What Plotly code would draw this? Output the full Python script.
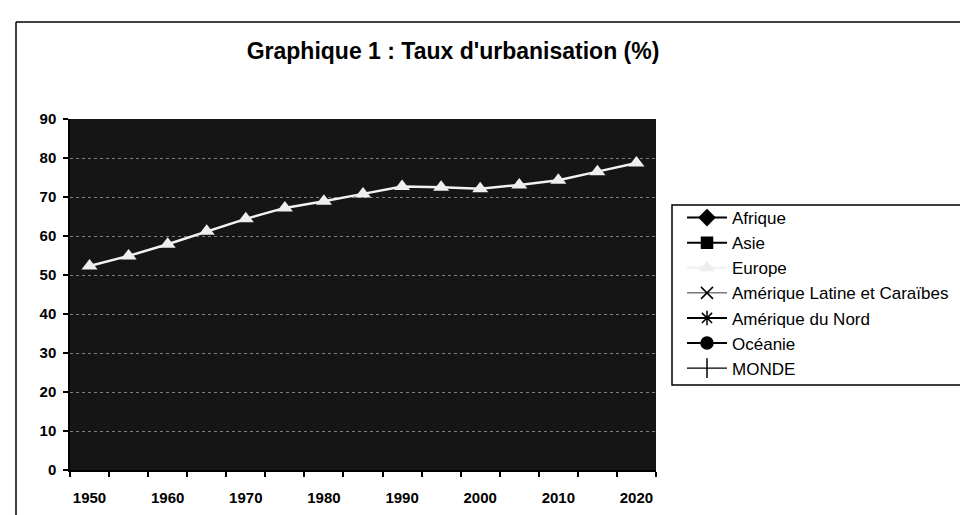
import plotly.graph_objects as go

years = [1950, 1955, 1960, 1965, 1970, 1975, 1980, 1985, 1990, 1995, 2000, 2005, 2010, 2015, 2020]
year_labels = [1950, 1960, 1970, 1980, 1990, 2000, 2010, 2020]
europe = [52.3, 54.9, 57.9, 61.2, 64.4, 67.2, 68.9, 70.8, 72.7, 72.5, 72.1, 73.1, 74.3, 76.5, 78.7]
y_ticks = [0, 10, 20, 30, 40, 50, 60, 70, 80, 90]

W, H = 968, 515
L, R, T, B = 62, 648, 111, 462

FONT = "Liberation Sans, Arial, sans-serif"

fig = go.Figure()

def empty(name, symbol, width=1.5, size=9):
    fig.add_trace(go.Scatter(
        x=years, y=[None] * len(years), name=name, mode="lines+markers",
        line=dict(color="black", width=width),
        marker=dict(symbol=symbol, color="black", size=size,
                    line=dict(color="black", width=1.5)),
    ))

empty("Afrique", "diamond", 2, 12)
empty("Asie", "square", 2, 11)
fig.add_trace(go.Scatter(
    x=years, y=europe, name="Europe", mode="lines+markers",
    line=dict(color="#f2f2f2", width=2.5),
    marker=dict(symbol="triangle-up", color="#eeeeee", size=14,
                line=dict(color="#ffffff", width=0)),
))
empty("Amérique Latine et Caraïbes", "x-thin-open", 0.8, 12)
empty("Amérique du Nord", "asterisk-open", 2, 12)
empty("Océanie", "circle", 2, 12)
empty("MONDE", "line-ns-open", 1.2, 14)

pw = R - L
ph = B - T
def px(x):
    return (x - L) / pw
def py(y):
    return (B - y) / ph

fig.update_layout(
    width=W, height=H,
    margin=dict(l=L, r=W - R, t=T, b=H - B),
    paper_bgcolor="white",
    plot_bgcolor="#151515",
    font=dict(family=FONT, color="black"),
    title=dict(text="<b>Graphique 1 : Taux d'urbanisation (%)</b>",
               x=445 / W, xanchor="center", y=1 - 43 / H, yanchor="middle",
               font=dict(size=23, family=FONT, color="black")),
    showlegend=True,
    legend=dict(x=px(674), xanchor="left", y=py(192), yanchor="top",
                bgcolor="rgba(0,0,0,0)", borderwidth=0,
                font=dict(size=17, family=FONT, color="black"),
                tracegroupgap=0, itemwidth=40),
    xaxis=dict(
        range=[1947.5, 2022.5],
        tickmode="array", tickvals=year_labels,
        ticks="", showgrid=False, zeroline=False,
        showline=True, linecolor="black", linewidth=1.5,
        ticklabelstandoff=13,
        tickfont=dict(size=15, family=FONT, color="black", weight="bold"),
        minor=dict(tick0=1947.5, dtick=5, ticks="outside", ticklen=5,
                   tickcolor="black", tickwidth=1.5, showgrid=False),
    ),
    yaxis=dict(
        range=[0, 90], tickmode="array", tickvals=y_ticks,
        ticks="outside", ticklen=5, tickcolor="black", tickwidth=1.5,
        showline=True, linecolor="black", linewidth=1.5,
        showgrid=True, gridcolor="rgba(255,255,255,0.45)", gridwidth=1, griddash="dot",
        zeroline=False, ticklabelstandoff=4,
        tickfont=dict(size=15, family=FONT, color="black", weight="bold"),
    ),
    shapes=[
        dict(type="rect", xref="paper", yref="paper",
             x0=px(664), x1=px(965), y0=py(377), y1=py(197),
             line=dict(color="black", width=1.5), fillcolor="rgba(0,0,0,0)"),
        dict(type="line", xref="paper", yref="paper",
             x0=px(8), x1=px(960), y0=py(14), y1=py(14),
             line=dict(color="black", width=1.5)),
        dict(type="line", xref="paper", yref="paper",
             x0=px(8), x1=px(8), y0=py(14), y1=py(515),
             line=dict(color="black", width=1.5)),
    ],
)

fig.write_html("out.html")
